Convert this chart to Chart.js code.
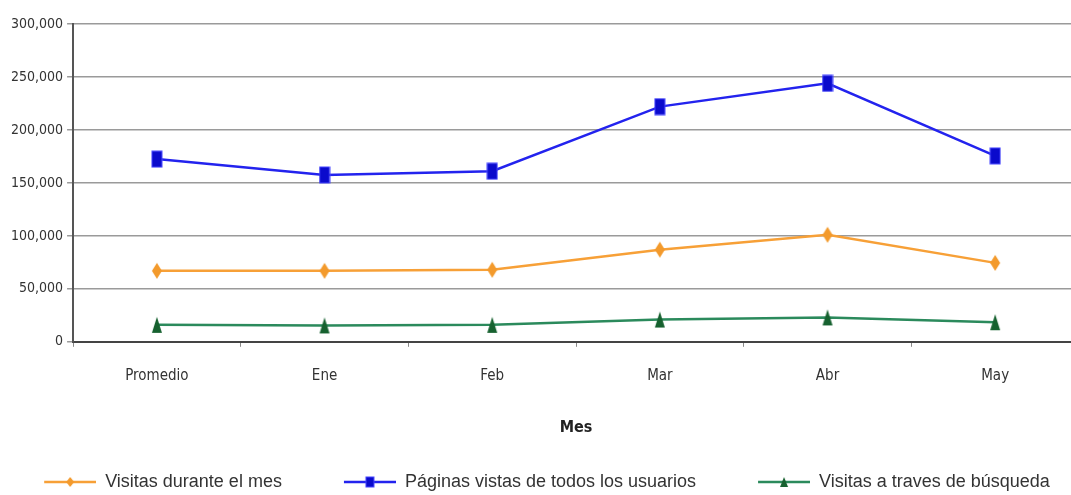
<!DOCTYPE html>
<html>
<head>
<meta charset="utf-8">
<script src="https://cdn.jsdelivr.net/npm/chart.js@4.4.1/dist/chart.umd.min.js"></script>
<style>
  html, body { margin: 0; padding: 0; background: #fff; overflow: hidden; }
  /* a bit bigger than the window: plot runs past the right edge like the original */
  #wrap { width: 1079px; height: 501px; }
</style>
</head>
<body>
<div id="wrap"><canvas id="mesChart"></canvas></div>
<script>
const months = ["Promedio", "Ene", "Feb", "Mar", "Abr", "May"];
const visitasMes = [67000, 67000, 68000, 87000, 101000, 74500];
const paginasVistas = [172500, 157500, 161000, 222000, 244000, 175500];
const visitasBusqueda = [16000, 15500, 16000, 21000, 23000, 18500];
const yTicks = [0, 50000, 100000, 150000, 200000, 250000, 300000];

const orange = "#f7a037";
const blue = "#2323ee";
const green = "#2b8a5c";

// marker pictures, drawn once and used as pointStyle
// lead = empty space on the left (used to spread the legend items)
function makeMarker(kind, w, h, withLine, lineColor, lead) {
    lead = lead || 0;
    const c = document.createElement("canvas");
    c.width = w + lead; c.height = h;
    const ctx = c.getContext("2d");
    const cx = lead + w / 2, cy = h / 2;
    if (withLine) {
        ctx.strokeStyle = lineColor;
        ctx.lineWidth = 2.5;
        ctx.beginPath();
        ctx.moveTo(lead, cy); ctx.lineTo(lead + w, cy);
        ctx.stroke();
    }
    if (kind == "rect") {
        ctx.fillStyle = "#0a0acc";
        ctx.strokeStyle = "#4444ff";
        ctx.lineWidth = 1;
        const rw = withLine ? 8 : 10, rh = withLine ? 10 : 16;
        ctx.fillRect(cx - rw / 2, cy - rh / 2, rw, rh);
        ctx.strokeRect(cx - rw / 2, cy - rh / 2, rw, rh);
    } else if (kind == "diamond") {
        const dw = withLine ? 4 : 5, dh = withLine ? 5 : 8;
        ctx.fillStyle = "#f39a2c";
        ctx.beginPath();
        ctx.moveTo(cx, cy - dh); ctx.lineTo(cx + dw, cy);
        ctx.lineTo(cx, cy + dh); ctx.lineTo(cx - dw, cy);
        ctx.closePath(); ctx.fill();
    } else {
        const tw = withLine ? 4 : 5, th = withLine ? 5 : 8;
        ctx.fillStyle = "#16612f";
        ctx.beginPath();
        ctx.moveTo(cx, cy - th); ctx.lineTo(cx + tw, cy + th);
        ctx.lineTo(cx - tw, cy + th);
        ctx.closePath(); ctx.fill();
    }
    return c;
}

const markers = [
    makeMarker("diamond", 12, 18, false),
    makeMarker("rect", 12, 18, false),
    makeMarker("tri", 12, 18, false)
];
const legendLead = 60;
const legendMarkers = [
    makeMarker("diamond", 52, 14, true, orange, legendLead),
    makeMarker("rect", 52, 14, true, blue, legendLead),
    makeMarker("tri", 52, 14, true, green, legendLead)
];

const fontFam = "'Liberation Sans Narrow', 'DejaVu Sans Condensed', 'Liberation Sans', sans-serif";

function lineSet(label, data, color, idx) {
    return {
        label: label,
        data: data,
        borderColor: color,
        backgroundColor: color,
        borderWidth: 2.5,
        tension: 0,
        pointStyle: markers[idx],
        pointRadius: 8,
        pointHoverRadius: 8
    };
}

// move the legend a little left, the original is not centred
const legendShift = {
    id: "legendShift",
    afterLayout(chart) {
        chart.legend.left -= 26;
        chart.legend.right -= 26;
    }
};

new Chart(document.getElementById("mesChart"), {
    type: "line",
    data: {
        labels: months,
        datasets: [
            lineSet("Visitas durante el mes", visitasMes, orange, 0),
            lineSet("Páginas vistas de todos los usuarios", paginasVistas, blue, 1),
            lineSet("Visitas a traves de búsqueda", visitasBusqueda, green, 2)
        ]
    },
    plugins: [legendShift],
    options: {
        responsive: true,
        maintainAspectRatio: false,
        animation: false,
        layout: { autoPadding: false, padding: { left: 7, right: 0, top: 24, bottom: 0 } },
        plugins: {
            tooltip: { enabled: false },
            legend: {
                position: "bottom",
                labels: {
                    usePointStyle: true,
                    pointStyleWidth: 52 + legendLead,
                    padding: 2,
                    color: "#333",
                    font: { family: "'Liberation Sans', Arial, sans-serif", size: 18 },
                    generateLabels: function (chart) {
                        const items = Chart.defaults.plugins.legend.labels.generateLabels(chart);
                        items.forEach((it, i) => { it.pointStyle = legendMarkers[i]; });
                        return items;
                    }
                }
            }
        },
        scales: {
            x: {
                offset: true,
                grid: { drawOnChartArea: false, drawTicks: true, tickLength: 5, color: "#888", offset: true },
                border: { color: "#444", width: 2 },
                ticks: { color: "#333", padding: 20, font: { family: fontFam, size: 15 } },
                title: {
                    display: true, text: "Mes", color: "#222",
                    padding: { top: 13, bottom: 34 },
                    font: { family: fontFam, size: 16, weight: "bold" }
                }
            },
            y: {
                min: 0,
                max: 300000,
                afterBuildTicks: function (axis) { axis.ticks = yTicks.map(v => ({ value: v })); },
                grid: { color: "#9a9a9a", lineWidth: 1.5, tickLength: 6 },
                border: { color: "#555", width: 2 },
                ticks: {
                    color: "#333",
                    padding: 4,
                    font: { family: fontFam, size: 14 },
                    callback: v => v.toLocaleString("en-US")
                }
            }
        }
    }
});
</script>
</body>
</html>
